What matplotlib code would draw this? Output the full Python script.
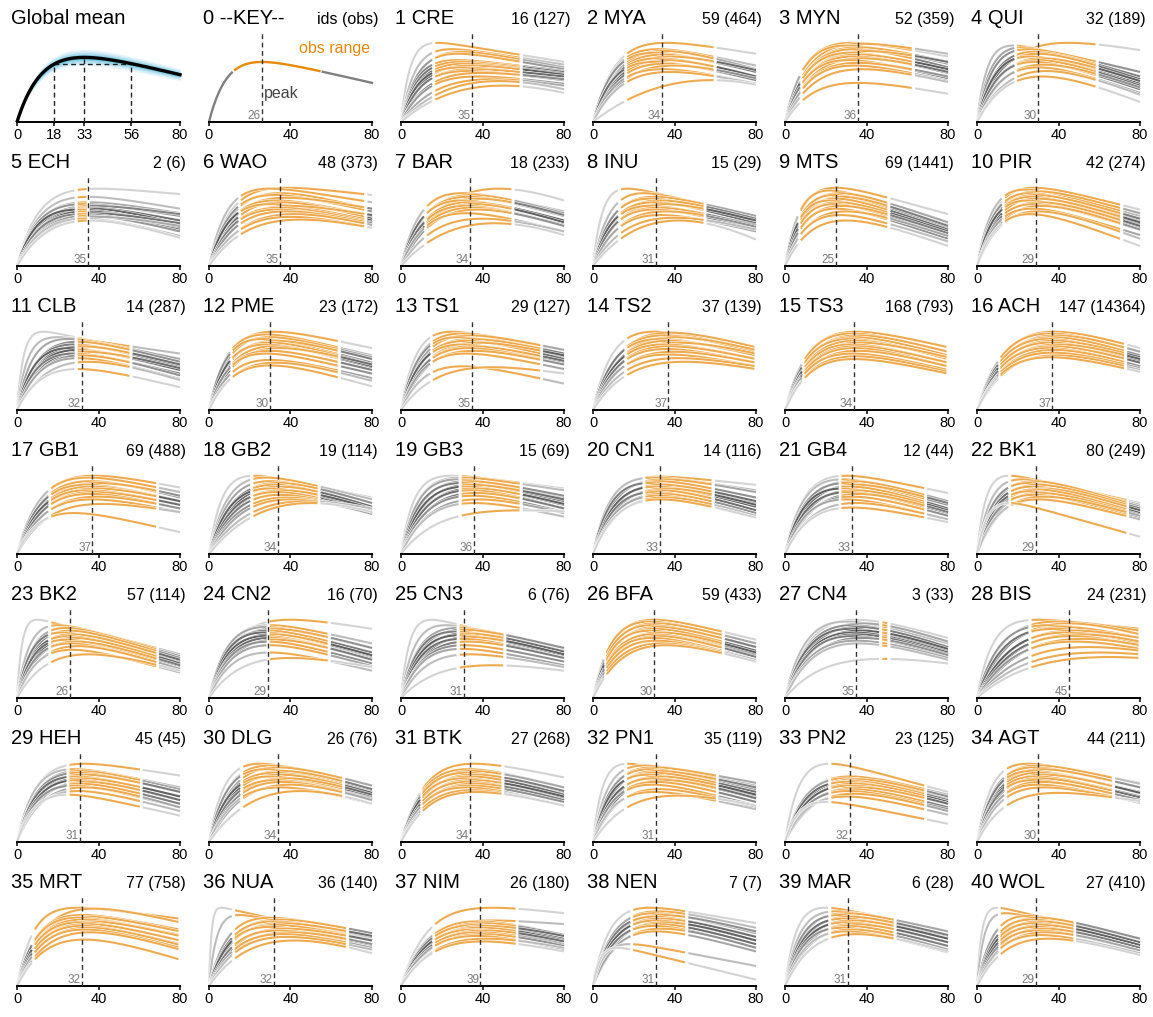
import numpy as np
import matplotlib
matplotlib.use("Agg")
import matplotlib.pyplot as plt
import matplotlib.patheffects as pe

plt.rcParams['font.family'] = ['Liberation Sans', 'DejaVu Sans']

# ---------------- data ----------------
NAMES = ["CRE", "MYA", "MYN", "QUI", "ECH", "WAO", "BAR", "INU", "MTS", "PIR",
         "CLB", "PME", "TS1", "TS2", "TS3", "ACH", "GB1", "GB2", "GB3", "CN1",
         "GB4", "BK1", "BK2", "CN2", "CN3", "BFA", "CN4", "BIS", "HEH", "DLG",
         "BTK", "PN1", "PN2", "AGT", "MRT", "NUA", "NIM", "NEN", "MAR", "WOL"]
IDS = [16, 59, 52, 32, 2, 48, 18, 15, 69, 42, 14, 23, 29, 37, 168, 147, 69, 19, 15, 14,
       12, 80, 57, 16, 6, 59, 3, 24, 45, 26, 27, 35, 23, 44, 77, 36, 26, 7, 6, 27]
OBS = [127, 464, 359, 189, 6, 373, 233, 29, 1441, 274, 287, 172, 127, 139, 793, 14364,
       488, 114, 69, 116, 44, 249, 114, 70, 76, 433, 33, 231, 45, 76, 268, 119, 125, 211,
       758, 140, 180, 7, 28, 410]
PEAK_AGE = [35, 34, 36, 30, 35, 35, 34, 31, 25, 29, 32, 30, 35, 37, 34, 37, 37, 34, 36, 33,
            33, 29, 26, 29, 31, 30, 35, 45, 31, 34, 34, 31, 32, 30, 32, 32, 39, 31, 31, 29]
OBS_START = [16, 16, 8, 19, 29, 15, 12, 13, 7, 13, 29, 11, 15, 16, 9, 11, 16, 21, 29, 25,
             27, 16, 16, 29, 28, 6, 47, 26, 25, 16, 10, 16, 22, 14, 8, 12, 16, 19, 22, 11]
OBS_END = [59, 60, 63, 59, 35, 77, 55, 55, 51, 71, 56, 64, 69, 80, 80, 73, 69, 54, 59, 59,
           69, 74, 69, 59, 51, 64, 51, 80, 61, 66, 50, 61, 69, 67, 80, 68, 57, 46, 54, 48]

# global mean curve: (peak height, peak age, height at 80); marked ages
GLOBAL_CURVE = (0.71, 33, 0.52)
GLOBAL_TICKS = [0, 18, 33, 56, 80]
# key curve
KEY_CURVE = (0.66, 26, 0.43)
KEY_OBS = (12, 55)
KEY_PEAK = 26

# per-site curves: (peak height, peak age, height at age 80)
C01 = [(0.87,18,0.66),(0.80,25,0.63),(0.77,30,0.60),(0.75,28,0.58),(0.68,28,0.56),(0.66,30,0.55),(0.64,32,0.53),(0.62,35,0.52),(0.60,30,0.49),(0.58,36,0.50),(0.56,33,0.46),(0.54,40,0.47),(0.50,38,0.42),(0.47,45,0.40),(0.45,48,0.36),(0.40,50,0.32)]
C02 = [(0.87,36,0.75),(0.80,32,0.62),(0.78,35,0.58),(0.76,30,0.55),(0.74,34,0.55),(0.72,38,0.57),(0.70,32,0.50),(0.68,36,0.50),(0.66,30,0.46),(0.64,35,0.46),(0.62,40,0.48),(0.58,34,0.42),(0.55,38,0.42),(0.46,58,0.41)]
C03 = [(0.87,33,0.72),(0.86,38,0.75),(0.84,30,0.64),(0.82,36,0.66),(0.80,34,0.60),(0.78,40,0.66),(0.76,32,0.56),(0.74,36,0.58),(0.72,34,0.54),(0.70,38,0.55),(0.68,31,0.48),(0.65,36,0.50),(0.62,34,0.45),(0.58,38,0.44),(0.43,36,0.31)]
C04 = [(0.87,45,0.79),(0.84,18,0.55),(0.82,22,0.50),(0.80,25,0.55),(0.77,28,0.50),(0.75,30,0.47),(0.72,26,0.42),(0.70,32,0.45),(0.68,30,0.40),(0.66,28,0.36),(0.63,33,0.38),(0.60,30,0.32),(0.56,34,0.30),(0.50,32,0.22)]
C05 = [(0.85,40,0.79),(0.76,35,0.63),(0.70,35,0.58),(0.68,33,0.55),(0.66,38,0.57),(0.64,35,0.50),(0.63,36,0.46),(0.62,30,0.45),(0.60,34,0.42),(0.58,37,0.47),(0.57,32,0.40),(0.55,35,0.38),(0.54,40,0.44),(0.52,33,0.33),(0.50,36,0.31)]
C06 = [(0.86,38,0.78),(0.85,30,0.70),(0.80,35,0.62),(0.78,32,0.60),(0.75,38,0.63),(0.72,33,0.55),(0.70,36,0.52),(0.68,30,0.50),(0.66,40,0.56),(0.64,35,0.48),(0.62,34,0.46),(0.60,38,0.47),(0.57,42,0.45),(0.54,40,0.42),(0.51,45,0.42)]
C07 = [(0.85,48,0.72),(0.80,30,0.60),(0.78,35,0.58),(0.76,33,0.55),(0.74,38,0.56),(0.72,30,0.50),(0.70,34,0.50),(0.68,36,0.48),(0.66,32,0.45),(0.64,35,0.44),(0.62,38,0.44),(0.58,32,0.38),(0.52,40,0.38),(0.47,46,0.34)]
C08 = [(0.85,17,0.55),(0.80,25,0.52),(0.76,30,0.55),(0.74,28,0.50),(0.72,33,0.52),(0.70,30,0.47),(0.68,35,0.50),(0.66,28,0.45),(0.64,32,0.44),(0.62,30,0.41),(0.60,36,0.43),(0.56,33,0.38),(0.53,40,0.40),(0.50,42,0.29)]
C09 = [(0.86,25,0.57),(0.83,22,0.45),(0.80,27,0.48),(0.78,24,0.42),(0.76,28,0.44),(0.74,25,0.40),(0.72,22,0.36),(0.70,26,0.38),(0.68,24,0.34),(0.66,28,0.36),(0.63,25,0.30),(0.60,30,0.33),(0.56,27,0.27),(0.50,30,0.22)]
C10 = [(0.86,28,0.62),(0.84,24,0.55),(0.82,30,0.58),(0.80,26,0.50),(0.78,29,0.52),(0.76,27,0.46),(0.74,30,0.48),(0.72,25,0.42),(0.70,31,0.44),(0.68,28,0.40),(0.66,32,0.40),(0.63,27,0.34),(0.60,30,0.30),(0.57,26,0.22)]
C11 = [(0.86,13,0.55),(0.80,20,0.62),(0.78,25,0.56),(0.75,30,0.53),(0.72,28,0.48),(0.70,32,0.50),(0.68,26,0.44),(0.66,30,0.44),(0.64,34,0.46),(0.62,28,0.40),(0.60,32,0.38),(0.57,30,0.34),(0.53,35,0.33),(0.45,30,0.25)]
C12 = [(0.86,32,0.68),(0.83,28,0.60),(0.80,30,0.58),(0.78,26,0.52),(0.76,33,0.56),(0.74,30,0.50),(0.72,28,0.47),(0.70,32,0.48),(0.68,35,0.50),(0.65,30,0.44),(0.62,28,0.40),(0.55,30,0.35),(0.52,33,0.32),(0.49,30,0.26)]
C13 = [(0.86,25,0.62),(0.84,30,0.66),(0.82,34,0.66),(0.80,28,0.58),(0.78,35,0.62),(0.76,32,0.56),(0.74,38,0.60),(0.72,30,0.52),(0.70,35,0.54),(0.68,33,0.50),(0.65,36,0.50),(0.62,32,0.45),(0.48,30,0.29),(0.47,45,0.40)]
C14 = [(0.86,30,0.66),(0.85,38,0.69),(0.82,35,0.64),(0.80,40,0.66),(0.78,33,0.60),(0.76,37,0.60),(0.74,42,0.62),(0.72,35,0.56),(0.70,38,0.56),(0.67,36,0.52),(0.64,40,0.52),(0.61,37,0.48),(0.57,42,0.48),(0.53,45,0.45)]
C15 = [(0.86,35,0.69),(0.84,33,0.64),(0.82,36,0.64),(0.80,34,0.60),(0.78,32,0.56),(0.76,35,0.58),(0.74,37,0.58),(0.72,33,0.52),(0.70,35,0.52),(0.68,34,0.48),(0.65,36,0.48),(0.62,33,0.44),(0.59,35,0.42),(0.56,34,0.40)]
C16 = [(0.86,38,0.68),(0.84,36,0.64),(0.82,39,0.64),(0.80,37,0.60),(0.78,35,0.56),(0.76,38,0.58),(0.74,36,0.54),(0.72,40,0.56),(0.70,37,0.52),(0.68,35,0.48),(0.66,38,0.48),(0.63,37,0.46),(0.60,39,0.44),(0.58,36,0.42)]
C17 = [(0.86,38,0.73),(0.84,35,0.68),(0.80,36,0.62),(0.78,40,0.64),(0.76,34,0.58),(0.74,37,0.58),(0.72,39,0.58),(0.70,35,0.54),(0.68,38,0.54),(0.66,36,0.50),(0.63,40,0.50),(0.60,37,0.46),(0.55,42,0.46),(0.45,28,0.24)]
C18 = [(0.86,22,0.62),(0.84,28,0.60),(0.80,30,0.56),(0.78,34,0.56),(0.76,32,0.52),(0.74,35,0.52),(0.72,30,0.48),(0.70,36,0.50),(0.68,33,0.46),(0.65,35,0.44),(0.62,38,0.45),(0.60,40,0.44),(0.58,48,0.50),(0.56,50,0.46)]
C19 = [(0.86,25,0.72),(0.84,30,0.70),(0.82,28,0.62),(0.80,33,0.64),(0.78,30,0.58),(0.76,35,0.60),(0.74,32,0.54),(0.72,36,0.55),(0.70,34,0.50),(0.67,37,0.50),(0.64,35,0.46),(0.60,38,0.45),(0.56,36,0.41),(0.48,60,0.47)]
C20 = [(0.85,33,0.76),(0.84,30,0.70),(0.82,35,0.68),(0.80,32,0.62),(0.78,28,0.56),(0.76,34,0.58),(0.74,31,0.52),(0.72,36,0.54),(0.70,33,0.48),(0.68,30,0.44),(0.66,34,0.45),(0.64,32,0.42),(0.62,35,0.42),(0.60,33,0.40)]
C21 = [(0.86,30,0.67),(0.82,28,0.58),(0.80,33,0.58),(0.78,30,0.54),(0.76,35,0.56),(0.74,32,0.50),(0.72,28,0.46),(0.70,34,0.48),(0.68,31,0.45),(0.66,36,0.46),(0.63,33,0.42),(0.60,30,0.38),(0.56,35,0.38),(0.51,33,0.35)]
C22 = [(0.86,16,0.56),(0.82,22,0.54),(0.80,28,0.52),(0.78,25,0.50),(0.76,30,0.50),(0.74,27,0.47),(0.72,32,0.48),(0.71,29,0.45),(0.69,26,0.42),(0.67,31,0.43),(0.65,28,0.40),(0.63,33,0.42),(0.60,30,0.38),(0.56,16,0.19)]
C23 = [(0.86,10,0.45),(0.80,20,0.48),(0.77,24,0.46),(0.74,26,0.44),(0.72,22,0.40),(0.70,27,0.42),(0.68,25,0.38),(0.66,28,0.38),(0.64,24,0.35),(0.62,29,0.36),(0.60,26,0.32),(0.57,30,0.32),(0.53,27,0.28),(0.48,35,0.30)]
C24 = [(0.86,40,0.76),(0.80,30,0.60),(0.78,28,0.55),(0.76,32,0.55),(0.74,29,0.50),(0.72,27,0.46),(0.70,31,0.47),(0.68,28,0.43),(0.66,30,0.42),(0.64,33,0.42),(0.62,29,0.38),(0.58,30,0.35),(0.50,30,0.30),(0.44,40,0.34)]
C25 = [(0.86,15,0.50),(0.80,22,0.52),(0.77,28,0.55),(0.75,31,0.55),(0.73,27,0.50),(0.71,32,0.51),(0.69,29,0.47),(0.67,34,0.48),(0.65,30,0.44),(0.62,33,0.44),(0.58,31,0.40),(0.54,30,0.36),(0.48,34,0.34),(0.36,45,0.30)]
C26 = [(0.86,30,0.64),(0.84,28,0.60),(0.82,31,0.60),(0.80,29,0.56),(0.78,32,0.56),(0.76,30,0.52),(0.74,28,0.48),(0.72,33,0.50),(0.70,30,0.46),(0.68,32,0.45),(0.66,29,0.42),(0.63,31,0.41),(0.60,34,0.42),(0.58,36,0.40)]
C27 = [(0.86,35,0.66),(0.84,30,0.60),(0.82,38,0.62),(0.80,33,0.56),(0.78,36,0.56),(0.76,32,0.52),(0.74,37,0.54),(0.72,34,0.50),(0.70,35,0.48),(0.68,33,0.46),(0.66,38,0.47),(0.63,35,0.44),(0.60,36,0.42),(0.43,48,0.38)]
C28 = [(0.86,30,0.76),(0.84,40,0.74),(0.82,45,0.70),(0.80,35,0.66),(0.78,42,0.66),(0.76,38,0.62),(0.74,48,0.66),(0.72,44,0.60),(0.70,50,0.62),(0.68,46,0.57),(0.65,52,0.58),(0.62,48,0.54),(0.56,55,0.52),(0.50,60,0.48),(0.45,65,0.44)]
C29 = [(0.86,33,0.73),(0.80,28,0.60),(0.78,31,0.58),(0.76,30,0.55),(0.74,33,0.55),(0.72,29,0.50),(0.70,32,0.50),(0.68,30,0.46),(0.66,34,0.46),(0.64,31,0.42),(0.62,28,0.38),(0.60,33,0.38),(0.56,30,0.34),(0.52,25,0.29)]
C30 = [(0.86,25,0.62),(0.84,30,0.62),(0.82,34,0.62),(0.80,28,0.56),(0.78,36,0.58),(0.76,32,0.54),(0.74,35,0.54),(0.72,30,0.50),(0.70,38,0.52),(0.68,33,0.48),(0.66,36,0.47),(0.63,40,0.46),(0.60,35,0.42),(0.56,45,0.42)]
C31 = [(0.86,36,0.71),(0.80,33,0.60),(0.78,35,0.60),(0.76,32,0.55),(0.74,36,0.56),(0.72,34,0.52),(0.70,31,0.48),(0.68,35,0.50),(0.66,33,0.46),(0.64,36,0.46),(0.62,34,0.44),(0.60,32,0.40),(0.57,35,0.40),(0.55,37,0.40)]
C32 = [(0.86,17,0.55),(0.84,25,0.62),(0.82,30,0.65),(0.80,28,0.58),(0.78,32,0.60),(0.76,30,0.55),(0.74,27,0.50),(0.72,33,0.52),(0.70,30,0.48),(0.68,35,0.48),(0.66,31,0.44),(0.63,29,0.40),(0.58,33,0.38),(0.55,30,0.36),(0.51,42,0.40)]
C33 = [(0.86,22,0.55),(0.72,32,0.52),(0.70,30,0.48),(0.69,35,0.50),(0.67,33,0.46),(0.66,30,0.44),(0.64,34,0.44),(0.62,32,0.42),(0.60,36,0.42),(0.58,33,0.38),(0.56,31,0.36),(0.53,34,0.34),(0.50,30,0.30),(0.44,20,0.20)]
C34 = [(0.86,25,0.65),(0.84,30,0.64),(0.82,28,0.60),(0.80,32,0.60),(0.78,27,0.55),(0.76,30,0.54),(0.74,33,0.54),(0.72,29,0.50),(0.70,31,0.49),(0.68,28,0.46),(0.66,32,0.46),(0.63,30,0.43),(0.60,33,0.44),(0.54,40,0.45)]
C35 = [(0.86,30,0.74),(0.85,38,0.70),(0.78,32,0.62),(0.76,35,0.60),(0.75,30,0.56),(0.73,33,0.55),(0.71,36,0.55),(0.70,31,0.50),(0.68,34,0.50),(0.66,32,0.46),(0.64,35,0.45),(0.62,33,0.42),(0.59,36,0.40),(0.51,33,0.29)]
C36 = [(0.86,6,0.50),(0.78,15,0.52),(0.75,30,0.58),(0.73,35,0.58),(0.71,32,0.54),(0.69,36,0.55),(0.67,33,0.50),(0.65,30,0.46),(0.63,38,0.50),(0.61,34,0.45),(0.59,40,0.46),(0.57,36,0.42),(0.54,38,0.40),(0.50,42,0.36)]
C37 = [(0.86,45,0.80),(0.72,45,0.68),(0.71,38,0.56),(0.69,40,0.56),(0.67,37,0.52),(0.66,42,0.55),(0.64,39,0.50),(0.62,36,0.46),(0.61,41,0.49),(0.59,38,0.45),(0.57,40,0.44),(0.55,37,0.40),(0.52,42,0.42),(0.49,40,0.38)]
C38 = [(0.86,28,0.69),(0.82,32,0.64),(0.80,30,0.58),(0.78,34,0.60),(0.76,30,0.54),(0.74,33,0.54),(0.72,31,0.50),(0.70,35,0.50),(0.68,32,0.46),(0.66,30,0.42),(0.63,34,0.42),(0.60,31,0.38),(0.46,18,0.22),(0.42,12,0.07)]
C39 = [(0.86,20,0.60),(0.82,25,0.60),(0.80,30,0.60),(0.78,27,0.55),(0.76,32,0.56),(0.74,29,0.52),(0.72,33,0.52),(0.70,30,0.48),(0.68,34,0.48),(0.66,31,0.44),(0.64,28,0.40),(0.62,33,0.40),(0.60,30,0.37),(0.57,35,0.38)]
C40 = [(0.86,10,0.50),(0.80,14,0.52),(0.77,25,0.52),(0.75,30,0.52),(0.73,27,0.48),(0.71,31,0.48),(0.69,28,0.45),(0.67,32,0.45),(0.65,29,0.42),(0.63,33,0.42),(0.61,30,0.39),(0.59,34,0.39),(0.56,31,0.36),(0.52,35,0.34)]

SITE_CURVES = [C01, C02, C03, C04, C05, C06, C07, C08, C09, C10, C11, C12, C13, C14,
               C15, C16, C17, C18, C19, C20, C21, C22, C23, C24, C25, C26, C27, C28,
               C29, C30, C31, C32, C33, C34, C35, C36, C37, C38, C39, C40]

# ---------------- growth-curve model ----------------
def curve_params(H, tp, E):
    """y = A(1-exp(-k t)) - c t with max H at tp and value E at t=80."""
    target = E / H

    def R(k):
        u = k * tp
        den = 1 - np.exp(-u) * (1 + u)
        num = 1 - np.exp(-80 * k) - 80 * k * np.exp(-u)
        return num / den

    lo, hi = np.log(2e-3), np.log(5.0)
    if target >= R(np.exp(hi)):
        k = np.exp(hi)
    elif target <= R(np.exp(lo)):
        k = np.exp(lo)
    else:
        for _ in range(70):
            mid = 0.5 * (lo + hi)
            if R(np.exp(mid)) < target:
                lo = mid
            else:
                hi = mid
        k = np.exp(0.5 * (lo + hi))
    u = k * tp
    A = H / (1 - np.exp(-u) * (1 + u))
    c = A * k * np.exp(-u)
    return A, k, c


def curve_y(params, t):
    A, k, c = params
    return A * (1 - np.exp(-k * t)) - c * t


# ---------------- layout ----------------
W, Hpx = 1153, 1017
fig = plt.figure(figsize=(W / 100, Hpx / 100), dpi=100)

X0 = 17        # px of age 0 in first column
COLSTEP = 192
AXW80 = 163    # px for 80 years
ROW0 = 122     # baseline of first row
ROWSTEP = 144
AXH = 91

ORANGE = '#E8890A'
LW = 1.5
GAP = 0.7
t_all = np.linspace(0, 80, 500)
halo = [pe.Stroke(linewidth=LW + 0.7, foreground='white'), pe.Normal()]


def make_ax(idx):
    r, c = divmod(idx, 6)
    x0 = X0 + COLSTEP * c
    yb = ROW0 + ROWSTEP * r
    ppu = AXW80 / 80.0
    left = x0 - 3 * ppu
    width = 86 * ppu
    ax = fig.add_axes([left / W, 1 - yb / Hpx, width / W, AXH / Hpx])
    ax.set_xlim(-3, 83)
    ax.set_ylim(0, 1)
    for s in ['left', 'right', 'top']:
        ax.spines[s].set_visible(False)
    ax.spines['bottom'].set_bounds(0, 80)
    ax.spines['bottom'].set_linewidth(1.4)
    ax.set_yticks([])
    ax.set_xticks([0, 40, 80])
    ax.tick_params(axis='x', length=3, width=1.1, pad=1.5, labelsize=10.5)
    ax.patch.set_alpha(0)
    return ax


def titles(ax, left, right):
    ax.text(0, 1.075, left, transform=ax.transAxes, ha='left', va='baseline',
            fontsize=14.5)
    ax.text(1, 1.075, right, transform=ax.transAxes, ha='right', va='baseline',
            fontsize=11.5)


def peak_line(ax, p):
    ax.plot([p, p], [0, 1], ls=(0, (3.5, 2.5)), color='#333333', lw=1.0, zorder=5)
    ax.text(p - 0.6, 0.005, str(p), ha='right', va='bottom', color='#7a7a7a',
            fontsize=8.5, zorder=6)


# ---- Global mean ----
ax = make_ax(0)
gp = curve_params(*GLOBAL_CURVE)
gy = curve_y(gp, t_all)
for w, a in [(0.085, 0.10), (0.065, 0.14), (0.045, 0.20), (0.028, 0.26), (0.014, 0.3)]:
    ax.fill_between(t_all, gy - w * gy / GLOBAL_CURVE[0] - 0.004,
                    gy + w * gy / GLOBAL_CURVE[0] + 0.004,
                    color='#22a6d0', alpha=a, lw=0)
ax.plot(t_all, gy, color='black', lw=2.4, zorder=4)
m1, mp, m2 = GLOBAL_TICKS[1], GLOBAL_TICKS[2], GLOBAL_TICKS[3]
yl = float(curve_y(gp, np.array([m1]))[0])
ypk = float(curve_y(gp, np.array([mp]))[0])
dash = dict(ls=(0, (3.5, 2.5)), color='#222222', lw=1.0, zorder=3)
ax.plot([m1, m1], [0, yl], **dash)
ax.plot([m2, m2], [0, yl], **dash)
ax.plot([mp, mp], [0, ypk], **dash)
ax.plot([m1, m2], [yl, yl], **dash)
ax.set_xticks(GLOBAL_TICKS)
ax.text(0, 1.075, "Global mean", transform=ax.transAxes, ha='left', va='baseline',
        fontsize=14.5)

# ---- Key ----
ax = make_ax(1)
kp = curve_params(*KEY_CURVE)
s, e = KEY_OBS
m = t_all <= s - GAP
ax.plot(t_all[m], curve_y(kp, t_all[m]), color='#808080', lw=LW + 0.2)
m = (t_all >= s + GAP) & (t_all <= e - GAP)
ax.plot(t_all[m], curve_y(kp, t_all[m]), color=ORANGE, lw=LW + 0.2)
m = t_all >= e + GAP
ax.plot(t_all[m], curve_y(kp, t_all[m]), color='#808080', lw=LW + 0.2)
peak_line(ax, KEY_PEAK)
ax.text(79, 0.76, "obs range", color=ORANGE, ha='right', va='baseline', fontsize=11.5)
ax.text(KEY_PEAK + 1, 0.26, "peak", color='#444444', ha='left', va='baseline',
        fontsize=11.5)
titles(ax, "0 --KEY--", "ids (obs)")

# ---- sites ----
for i in range(40):
    ax = make_ax(i + 2)
    curves = SITE_CURVES[i]
    s, e = OBS_START[i], OBS_END[i]
    n = len(curves)
    params = [curve_params(*cv) for cv in curves]
    shades = []
    for j in range(n):
        d = abs(j - (n - 1) / 2) / ((n - 1) / 2)
        g = 0.25 + 0.55 * d ** 1.3
        shades.append((g, g, g))
    # grey parts
    for j, p in enumerate(params):
        m = t_all <= s - GAP
        if m.sum() > 1:
            ax.plot(t_all[m], curve_y(p, t_all[m]), color=shades[j], lw=LW, alpha=0.85,
                    path_effects=halo, solid_capstyle='butt', zorder=2)
        m = t_all >= e + GAP
        if m.sum() > 1:
            ax.plot(t_all[m], curve_y(p, t_all[m]), color=shades[j], lw=LW, alpha=0.85,
                    path_effects=halo, solid_capstyle='butt', zorder=2)
    # observed range in orange
    for j, p in enumerate(params):
        m = (t_all >= s + GAP) & (t_all <= e - GAP)
        if m.sum() > 1:
            ax.plot(t_all[m], curve_y(p, t_all[m]), color=ORANGE, lw=LW, alpha=0.72,
                    path_effects=halo, solid_capstyle='butt', zorder=3)
    peak_line(ax, PEAK_AGE[i])
    titles(ax, f"{i + 1} {NAMES[i]}", f"{IDS[i]} ({OBS[i]})")

fig.savefig("out.png", dpi=100)
